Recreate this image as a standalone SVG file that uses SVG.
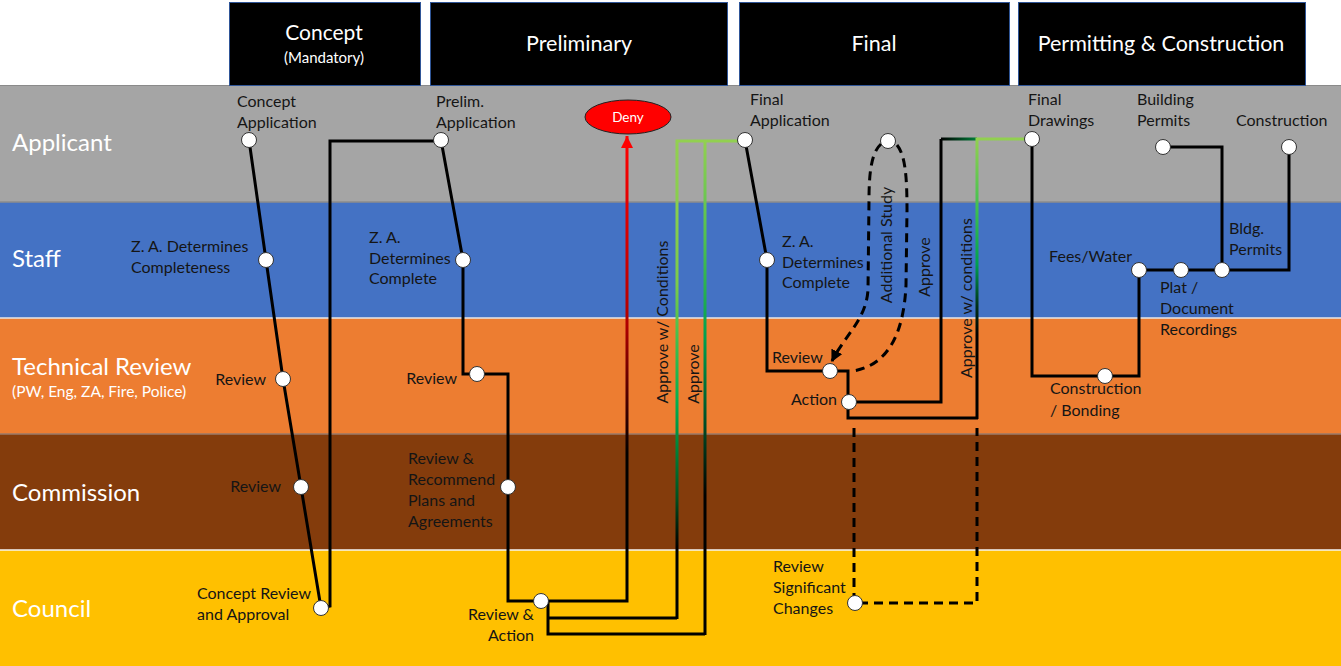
<svg xmlns="http://www.w3.org/2000/svg" width="1341" height="666" viewBox="0 0 1341 666">
<style>
.hdr{fill:#000;stroke:#2F5597;stroke-width:1}
.ht{font-family:Lato,"Open Sans",sans-serif;fill:#fff;text-anchor:middle}
.lane-t{font-family:Lato,"Open Sans",sans-serif;fill:#fff;font-size:24px}
.t{font-family:Lato,"Open Sans",sans-serif;font-size:16px;fill:#151515}
.e{text-anchor:end}
.m{text-anchor:middle}
.ln{fill:none;stroke:#000;stroke-width:3;stroke-linejoin:miter}
.dash{fill:none;stroke:#000;stroke-width:3;stroke-dasharray:9 6}
.node circle{fill:#fff;stroke:#333;stroke-width:1}
</style>
<defs>
<linearGradient id="gRed" gradientUnits="userSpaceOnUse" x1="0" y1="140" x2="0" y2="601">
<stop offset="0" stop-color="#FF0000"/><stop offset="0.4" stop-color="#B00000"/><stop offset="0.68" stop-color="#000"/><stop offset="1" stop-color="#000"/>
</linearGradient>
<linearGradient id="gG1" gradientUnits="userSpaceOnUse" x1="0" y1="141" x2="0" y2="618">
<stop offset="0" stop-color="#92D050"/><stop offset="0.3" stop-color="#7CCB4A"/><stop offset="0.55" stop-color="#00B050"/><stop offset="0.75" stop-color="#005020"/><stop offset="0.85" stop-color="#000"/><stop offset="1" stop-color="#000"/>
</linearGradient>
<linearGradient id="gG2" gradientUnits="userSpaceOnUse" x1="0" y1="141" x2="0" y2="634">
<stop offset="0" stop-color="#92D050"/><stop offset="0.2" stop-color="#50C050"/><stop offset="0.4" stop-color="#00A050"/><stop offset="0.6" stop-color="#004020"/><stop offset="0.72" stop-color="#000"/><stop offset="1" stop-color="#000"/>
</linearGradient>
<linearGradient id="gG3" gradientUnits="userSpaceOnUse" x1="0" y1="139" x2="0" y2="418">
<stop offset="0" stop-color="#92D050"/><stop offset="0.25" stop-color="#40C050"/><stop offset="0.45" stop-color="#00A050"/><stop offset="0.6" stop-color="#003018"/><stop offset="0.7" stop-color="#000"/><stop offset="1" stop-color="#000"/>
</linearGradient>
<linearGradient id="gH" gradientUnits="userSpaceOnUse" x1="941" y1="0" x2="977" y2="0">
<stop offset="0" stop-color="#000"/><stop offset="1" stop-color="#00803A"/>
</linearGradient>
<marker id="arRed" markerWidth="12" markerHeight="12" refX="10" refY="5" orient="auto" markerUnits="userSpaceOnUse" viewBox="0 0 10 10">
<path d="M0,0 L10,5 L0,10 Z" fill="#FF0000"/>
</marker>
<marker id="arBlk" markerWidth="12" markerHeight="12" refX="9" refY="5" orient="auto" markerUnits="userSpaceOnUse" viewBox="0 0 10 10">
<path d="M0,0 L10,5 L0,10 Z" fill="#000"/>
</marker>
</defs>

<rect x="0" y="0" width="1341" height="666" fill="#fff"/>

<g id="lanes">
<rect x="0" y="85" width="1341" height="117" fill="#A5A5A5"/>
<rect x="0" y="202" width="1341" height="116" fill="#4472C4"/>
<rect x="0" y="318" width="1341" height="116" fill="#ED7D31"/>
<rect x="0" y="434" width="1341" height="116" fill="#843C0C"/>
<rect x="0" y="550" width="1341" height="116" fill="#FFC000"/>
<line x1="0" y1="85.5" x2="1341" y2="85.5" stroke="#8a8a8a" stroke-width="1"/>
<line x1="0" y1="202" x2="1341" y2="202" stroke="#8c8c8c" stroke-width="1.5"/>
<line x1="0" y1="318" x2="1341" y2="318" stroke="#e8e8e8" stroke-width="1.5"/>
<line x1="0" y1="434" x2="1341" y2="434" stroke="#9a7a6a" stroke-width="1.5"/>
<line x1="0" y1="550" x2="1341" y2="550" stroke="#f4f4f4" stroke-width="1.5"/>
<text class="lane-t" x="12" y="151">Applicant</text>
<text class="lane-t" x="12" y="267">Staff</text>
<text class="lane-t" x="12" y="375">Technical Review</text>
<text class="lane-t" x="12" y="397" style="font-size:15.5px">(PW, Eng, ZA, Fire, Police)</text>
<text class="lane-t" x="12" y="501">Commission</text>
<text class="lane-t" x="12" y="617">Council</text>
</g>

<g id="headers">
<g id="hdr-concept"><rect class="hdr" x="229.5" y="2.5" width="191" height="83"/>
<text class="ht" x="324" y="40" font-size="21">Concept</text><text class="ht" x="324" y="63" font-size="15">(Mandatory)</text></g>
<g id="hdr-prelim"><rect class="hdr" x="430.5" y="2.5" width="297" height="83"/>
<text class="ht" x="579" y="51" font-size="21.5">Preliminary</text></g>
<g id="hdr-final"><rect class="hdr" x="739.5" y="2.5" width="270" height="83"/>
<text class="ht" x="874" y="51" font-size="21.5">Final</text></g>
<g id="hdr-permit"><rect class="hdr" x="1018.5" y="2.5" width="287" height="83"/>
<text class="ht" x="1161" y="51" font-size="21.5">Permitting &amp; Construction</text></g>
</g>

<g id="connectors">
<polyline class="ln" points="249,140 266,260 283,379 301,487 321,608"/>
<path class="ln" d="M321,608 L330,606 V141 H441"/>
<path class="ln" d="M441,140 L463,260 V374 H477"/>
<path class="ln" d="M477,374 H508 V601 H541"/>
<path d="M541,601 H627 V136" fill="none" stroke="url(#gRed)" stroke-width="3" marker-end="url(#arRed)"/>
<path class="ln" d="M548,601 V634 H705 M548,618 H677"/>
<path d="M677,619 V141 H745" fill="none" stroke="url(#gG1)" stroke-width="3"/>
<path d="M705,635 V141" fill="none" stroke="url(#gG2)" stroke-width="3"/>
<path class="ln" d="M745,140 L767,260 V371 H830"/>
<path class="ln" d="M830,371 H848 V418 H978"/>
<path class="ln" d="M849,402 H941 V139"/>
<path d="M941,139 H977" fill="none" stroke="url(#gH)" stroke-width="3"/>
<path d="M977,419 V139 H1032" fill="none" stroke="url(#gG3)" stroke-width="3"/>
<path class="dash" d="M854,428 V603 H977 V428"/>
<path class="dash" d="M881,144 C872,152 869,170 869,200 L868,290 C866,320 845,335 832,361" marker-end="url(#arBlk)"/>
<path class="dash" d="M897,145 C905,155 907,175 907,210 L906,285 C904,330 890,365 853,371"/>
<path class="ln" d="M1032,139 V376 H1139 V270 H1289 V147"/>
<path class="ln" d="M1163,147 H1222 V270"/>
</g>

<g id="deny">
<ellipse cx="628" cy="117" rx="43" ry="17" fill="#FF0000" stroke="#222" stroke-width="1"/>
<text x="628" y="122" font-family="Lato,'Open Sans',sans-serif" font-size="13.5" fill="#fff" text-anchor="middle">Deny</text>
</g>

<g id="n-concept-app" class="node"><circle cx="249" cy="140" r="7.5"/>
<text class="t" x="237" y="107">Concept</text><text class="t" x="237" y="128">Application</text></g>
<g id="n-concept-za" class="node"><circle cx="266" cy="260" r="7.5"/>
<text class="t" x="131" y="252">Z. A. Determines</text><text class="t" x="131" y="273">Completeness</text></g>
<g id="n-concept-review" class="node"><circle cx="283" cy="379" r="7.5"/>
<text class="t e" x="266" y="385">Review</text></g>
<g id="n-concept-comm" class="node"><circle cx="301" cy="487" r="7.5"/>
<text class="t e" x="281" y="492">Review</text></g>
<g id="n-concept-council" class="node"><circle cx="321" cy="608" r="7.5"/>
<text class="t" x="197" y="599">Concept Review</text><text class="t" x="197" y="620">and Approval</text></g>

<g id="n-prelim-app" class="node"><circle cx="441" cy="140" r="7.5"/>
<text class="t" x="436" y="107">Prelim.</text><text class="t" x="436" y="128">Application</text></g>
<g id="n-prelim-za" class="node"><circle cx="463" cy="260" r="7.5"/>
<text class="t" x="369" y="243">Z. A.</text><text class="t" x="369" y="264">Determines</text><text class="t" x="369" y="284">Complete</text></g>
<g id="n-prelim-review" class="node"><circle cx="477" cy="374" r="7.5"/>
<text class="t e" x="457" y="384">Review</text></g>
<g id="n-prelim-comm" class="node"><circle cx="508" cy="487" r="7.5"/>
<text class="t" x="408" y="464">Review &amp;</text><text class="t" x="408" y="485">Recommend</text><text class="t" x="408" y="506">Plans and</text><text class="t" x="408" y="527">Agreements</text></g>
<g id="n-prelim-council" class="node"><circle cx="541" cy="601" r="7.5"/>
<text class="t e" x="534" y="620">Review &amp;</text><text class="t e" x="534" y="641">Action</text></g>

<g id="lbl-prelim">
<text class="t m" transform="translate(668,322) rotate(-90)">Approve w/ Conditions</text>
<text class="t m" transform="translate(699,374) rotate(-90)">Approve</text>
</g>

<g id="n-final-app" class="node"><circle cx="745" cy="140" r="7.5"/>
<text class="t" x="750" y="105">Final</text><text class="t" x="750" y="126">Application</text></g>
<g id="n-final-za" class="node"><circle cx="767" cy="260" r="7.5"/>
<text class="t" x="782" y="247">Z. A.</text><text class="t" x="782" y="268">Determines</text><text class="t" x="782" y="288">Complete</text></g>
<g id="n-final-study" class="node"><circle cx="888" cy="141" r="7.5"/></g>
<g id="n-final-review" class="node"><circle cx="830" cy="371" r="7.5"/>
<text class="t" x="772" y="363">Review</text></g>
<g id="n-final-action" class="node"><circle cx="849" cy="402" r="7.5"/>
<text class="t e" x="837" y="405">Action</text></g>
<g id="n-final-council" class="node"><circle cx="855" cy="603" r="7.5"/>
<text class="t" x="773" y="572">Review</text><text class="t" x="773" y="593">Significant</text><text class="t" x="773" y="614">Changes</text></g>

<g id="lbl-final">
<text class="t m" transform="translate(892,245) rotate(-90)">Additional Study</text>
<text class="t m" transform="translate(930,267) rotate(-90)">Approve</text>
<text class="t m" transform="translate(972,298) rotate(-90)">Approve w/ conditions</text>
</g>

<g id="n-final-drawings" class="node"><circle cx="1032" cy="139" r="7.5"/>
<text class="t" x="1028" y="105">Final</text><text class="t" x="1028" y="126">Drawings</text></g>
<g id="n-building-permits" class="node"><circle cx="1163" cy="147" r="7.5"/>
<text class="t" x="1137" y="105">Building</text><text class="t" x="1137" y="126">Permits</text></g>
<g id="n-construction" class="node"><circle cx="1289" cy="147" r="7.5"/>
<text class="t" x="1236" y="126">Construction</text></g>
<g id="n-bonding" class="node"><circle cx="1105" cy="376" r="7.5"/>
<text class="t" x="1050" y="394">Construction</text><text class="t" x="1050" y="416">/ Bonding</text></g>
<g id="n-fees" class="node"><circle cx="1139" cy="270" r="7.5"/>
<text class="t e" x="1132" y="262">Fees/Water</text></g>
<g id="n-plat" class="node"><circle cx="1181" cy="270" r="7.5"/>
<text class="t" x="1160" y="293">Plat /</text><text class="t" x="1160" y="314">Document</text><text class="t" x="1160" y="335">Recordings</text></g>
<g id="n-bldg" class="node"><circle cx="1222" cy="270" r="7.5"/>
<text class="t" x="1229" y="234">Bldg.</text><text class="t" x="1229" y="255">Permits</text></g>
</svg>
